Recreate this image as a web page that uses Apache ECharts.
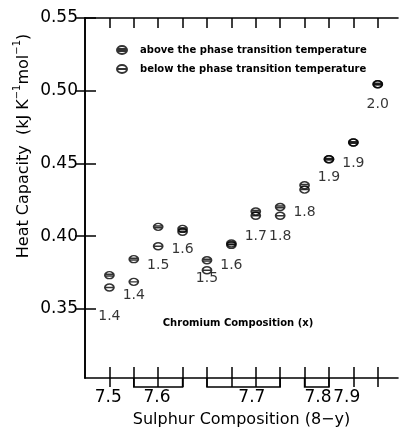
<!DOCTYPE html>
<html><head><meta charset="utf-8">
<script src="https://cdn.jsdelivr.net/npm/echarts@6/dist/echarts.min.js"></script>
<style>html,body{margin:0;padding:0;background:#fff}#c{width:401px;height:434px}</style>
</head><body><div id="c"></div>
<script>
// ---- data ----
const samples = [1,2,3,4,5,6,7,8,9,10,11,12];
const chromium = ['1.4','1.4','1.5','1.6','1.5','1.6','1.7','1.8','1.8','1.9','1.9','2.0'];
const heatAbove = [0.3732,0.3842,0.4064,0.4050,0.3835,0.3950,0.4170,0.4201,0.4350,0.4529,0.4644,0.5045];
const heatBelow = [0.3647,0.3686,0.3931,0.4030,0.3766,0.3940,0.4140,0.4140,0.4320,0.4529,0.4644,0.5045];
const sulphurLabels = ['7.5','7.6','7.7','7.8','7.9','8.0'];
const sulphurGroups = [[1,1],[2,4],[5,8],[9,10],[11,11],[12,12]];
const yTicks = [0.35,0.40,0.45,0.50,0.55];
const seriesNames = ['above the phase transition temperature','below the phase transition temperature'];

// ---- annotation anchors (data units) ----
const chromiumLabelY = [0.345,0.3595,0.380,0.391,0.371,0.380,0.400,0.400,0.4167,0.4405,0.4502,0.4907];
const sulphurLabelAt = [0.95,2.95,6.84,9.55,10.73,11.72];

const Y_MIN = 0.3025, Y_MAX = 0.55, X_MIN = 0, X_MAX = 12.83;
const NUM = 'DejaVu Sans';
const symBelow = 'path://M0,4 A5,4 0 1,1 10,4 A5,4 0 1,1 0,4 Z M0,4 L10,4';
const symAbove = 'path://M0,4 A5,4 0 1,1 10,4 A5,4 0 1,1 0,4 Z M0,3 L10,3 M0,5 L10,5';

const chart = echarts.init(document.getElementById('c'), null, {renderer:'canvas'});
const baseX = {type:'value', min:X_MIN, max:X_MAX, splitLine:{show:false}, gridIndex:0};
const baseY = {type:'value', min:Y_MIN, max:Y_MAX, splitLine:{show:false}, gridIndex:0};
const line = {show:true, lineStyle:{color:'#000', width:1.6}};

chart.setOption({
  animation:false,
  backgroundColor:'#fff',
  grid:{left:85, right:3, top:18, bottom:56, containLabel:false},
  legend:{
    data:seriesNames, orient:'vertical', left:111, top:40, itemWidth:10, itemHeight:8, itemGap:9,
    textStyle:{fontFamily:NUM, fontWeight:'bold', fontSize:10, color:'#000', padding:[0,0,0,8]},
    selectedMode:false
  },
  xAxis:[
    Object.assign({}, baseX, {
      position:'bottom', axisLine:line,
      axisTick:{show:true, inside:true, length:11, customValues:samples, lineStyle:{color:'#000', width:1.5}},
      axisLabel:{show:true, customValues:sulphurLabelAt, margin:11, color:'#000', fontFamily:NUM, fontSize:17,
        formatter:function(v){let b=0;for(let i=0;i<sulphurLabelAt.length;i++){if(Math.abs(sulphurLabelAt[i]-v)<Math.abs(sulphurLabelAt[b]-v))b=i;}return sulphurLabels[b];}},
      name:'Sulphur Composition (8\u2212y)', nameLocation:'middle', nameGap:34,
      nameTextStyle:{fontFamily:NUM, fontSize:16, color:'#000'}
    }),
    Object.assign({}, baseX, {
      position:'bottom', axisLine:{show:false},
      axisTick:{show:true, inside:false, length:9, customValues:samples, lineStyle:{color:'#000', width:1.5}},
      axisLabel:{show:false}
    }),
    Object.assign({}, baseX, {
      position:'top', axisLine:line,
      axisTick:{show:true, inside:true, length:10, customValues:samples, lineStyle:{color:'#000', width:1.5}},
      axisLabel:{show:false}
    })
  ],
  yAxis:[
    Object.assign({}, baseY, {
      position:'left', axisLine:line,
      axisTick:{show:true, inside:true, length:11, customValues:yTicks, lineStyle:{color:'#000', width:1.5}},
      axisLabel:{show:true, customValues:yTicks, margin:7, color:'#000', fontFamily:NUM, fontSize:17,
        formatter:function(v){return v.toFixed(2);}}
    }),
    Object.assign({}, baseY, {
      position:'right', axisLine:line,
      axisTick:{show:true, inside:true, length:10, customValues:yTicks, lineStyle:{color:'#000', width:1.5}},
      axisLabel:{show:false}
    })
  ],
  series:[
    {
      name:seriesNames[0], type:'scatter', xAxisIndex:0, yAxisIndex:0,
      symbol:symAbove, symbolSize:[9,7],
      itemStyle:{color:'rgba(0,0,0,0)', borderColor:'#000', borderWidth:1.6},
      data:samples.map((s,i)=>[s, heatAbove[i]])
    },
    {
      name:seriesNames[1], type:'scatter', xAxisIndex:0, yAxisIndex:0,
      symbol:symBelow, symbolSize:[9,7],
      itemStyle:{color:'rgba(0,0,0,0)', borderColor:'#000', borderWidth:1.6},
      data:samples.map((s,i)=>[s, heatBelow[i]])
    },
    {
      name:'chromium', type:'scatter', xAxisIndex:0, yAxisIndex:0, symbolSize:0, silent:true,
      label:{show:true, position:'inside', color:'#000', fontFamily:NUM, fontSize:14,
        formatter:function(p){return p.value[2];}},
      data:samples.map((s,i)=>[s, chromiumLabelY[i], chromium[i]])
    },
    {
      name:'brackets', type:'custom', xAxisIndex:0, yAxisIndex:0, clip:false, silent:true,
      encode:{x:[0,1], y:2},
      data:sulphurGroups.filter(g=>g[1]>g[0]).map(g=>[g[0], g[1], Y_MIN]),
      renderItem:function(params, api){
        const p1 = api.coord([api.value(0), api.value(2)]);
        const p2 = api.coord([api.value(1), api.value(2)]);
        const d = 9;
        return {type:'polyline', shape:{points:[[p1[0],p1[1]],[p1[0],p1[1]+d],[p2[0],p2[1]+d],[p2[0],p2[1]]]},
          style:{fill:null, stroke:'#000', lineWidth:1.5}};
      }
    }
  ],
  graphic:[
    {type:'text', x:22, y:146, rotation:Math.PI/2,
      style:{text:'{n|Heat Capacity  (kJ K}{s|\u22121}{n|mol}{s|\u22121}{n|)}', align:'center', verticalAlign:'middle',
        rich:{n:{fontFamily:NUM, fontSize:16, color:'#000', verticalAlign:'bottom', lineHeight:20},
              s:{fontFamily:NUM, fontSize:10, color:'#000', verticalAlign:'top', lineHeight:20}}}},
    {type:'text', x:238, y:323,
      style:{text:'Chromium Composition (x)', align:'center', verticalAlign:'middle',
        fontFamily:NUM, fontWeight:'bold', fontSize:10, fill:'#000'}}
  ]
});
</script></body></html>
